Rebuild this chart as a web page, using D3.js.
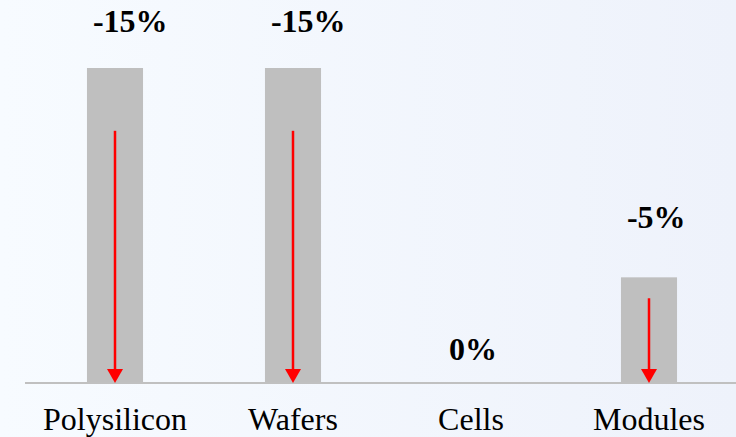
<!DOCTYPE html>
<html>
<head>
<meta charset="utf-8">
<script src="https://cdn.jsdelivr.net/npm/d3@7"></script>
<style>
  html, body { margin: 0; padding: 0; background: #f5f9fe; }
  svg { display: block; }
  text { font-family: "Liberation Serif", "Times New Roman", Times, serif; }
</style>
</head>
<body>
<svg id="chart" width="736" height="437"></svg>
<script>
// Price change by stage of the PV value chain
const categories = ["Polysilicon", "Wafers", "Cells", "Modules"];
const changes = [-15, -15, 0, -5];
const changeLabels = ["-15%", "-15%", "0%", "-5%"];

// How far each percentage label sits above its bar top (px)
const labelLift = [36, 36, 22, 49];

const W = 736, H = 437;
const baseY = 382, topY = 68;

const svg = d3.select("#chart");

// soft background wash
const defs = svg.append("defs");
const bg = defs.append("linearGradient").attr("id", "bg")
  .attr("x1", "0%").attr("y1", "0%").attr("x2", "100%").attr("y2", "0%");
bg.append("stop").attr("offset", "0%").attr("stop-color", "#f7fbff");
bg.append("stop").attr("offset", "100%").attr("stop-color", "#eef2fb");
svg.append("rect").attr("width", W).attr("height", H).attr("fill", "url(#bg)");

const x = d3.scaleBand()
  .domain(categories)
  .range([26, 738])
  .paddingInner(0.685)
  .paddingOuter(0.3425);

const y = d3.scaleLinear()
  .domain([0, 15])
  .range([baseY, topY]);

const data = categories.map((c, i) => ({
  cat: c, v: changes[i], label: changeLabels[i], lift: labelLift[i]
}));
const falling = data.filter(d => d.v !== 0);
const cx = d => x(d.cat) + x.bandwidth() / 2;

// bars (height = size of the decline)
svg.selectAll("rect.bar")
  .data(falling)
  .join("rect")
  .attr("class", "bar")
  .attr("x", d => x(d.cat))
  .attr("width", x.bandwidth())
  .attr("y", d => y(Math.abs(d.v)))
  .attr("height", d => baseY - y(Math.abs(d.v)))
  .attr("fill", "#bfbfbf");

// baseline
svg.append("line")
  .attr("x1", 25).attr("x2", W)
  .attr("y1", baseY + 1).attr("y2", baseY + 1)
  .attr("stroke", "#c0c0c0")
  .attr("stroke-width", 2);

// downward arrows inside bars: shaft + head
const headW = 16, headH = 14;
svg.selectAll("line.shaft")
  .data(falling)
  .join("line")
  .attr("class", "shaft")
  .attr("x1", cx).attr("x2", cx)
  .attr("y1", d => y(Math.abs(d.v) * 0.8))
  .attr("y2", baseY - headH + 2)
  .attr("stroke", "#ff0000")
  .attr("stroke-width", 2.5);

svg.selectAll("path.head")
  .data(falling)
  .join("path")
  .attr("class", "head")
  .attr("d", d => {
    const c = cx(d), tip = baseY + 1;
    return `M${c - headW / 2},${tip - headH} L${c + headW / 2},${tip - headH} L${c},${tip} Z`;
  })
  .attr("fill", "#ff0000");

// percentage labels
svg.selectAll("text.pct")
  .data(data)
  .join("text")
  .attr("class", "pct")
  .attr("x", d => x(d.cat) + 6)
  .attr("y", d => y(Math.abs(d.v)) - d.lift)
  .attr("text-anchor", "start")
  .attr("font-weight", "bold")
  .attr("font-size", 32)
  .attr("fill", "#000")
  .text(d => d.label);

// category labels
svg.selectAll("text.cat")
  .data(data)
  .join("text")
  .attr("class", "cat")
  .attr("x", cx)
  .attr("y", 430)
  .attr("text-anchor", "middle")
  .attr("font-size", 32)
  .attr("fill", "#000")
  .text(d => d.cat);
</script>
</body>
</html>
